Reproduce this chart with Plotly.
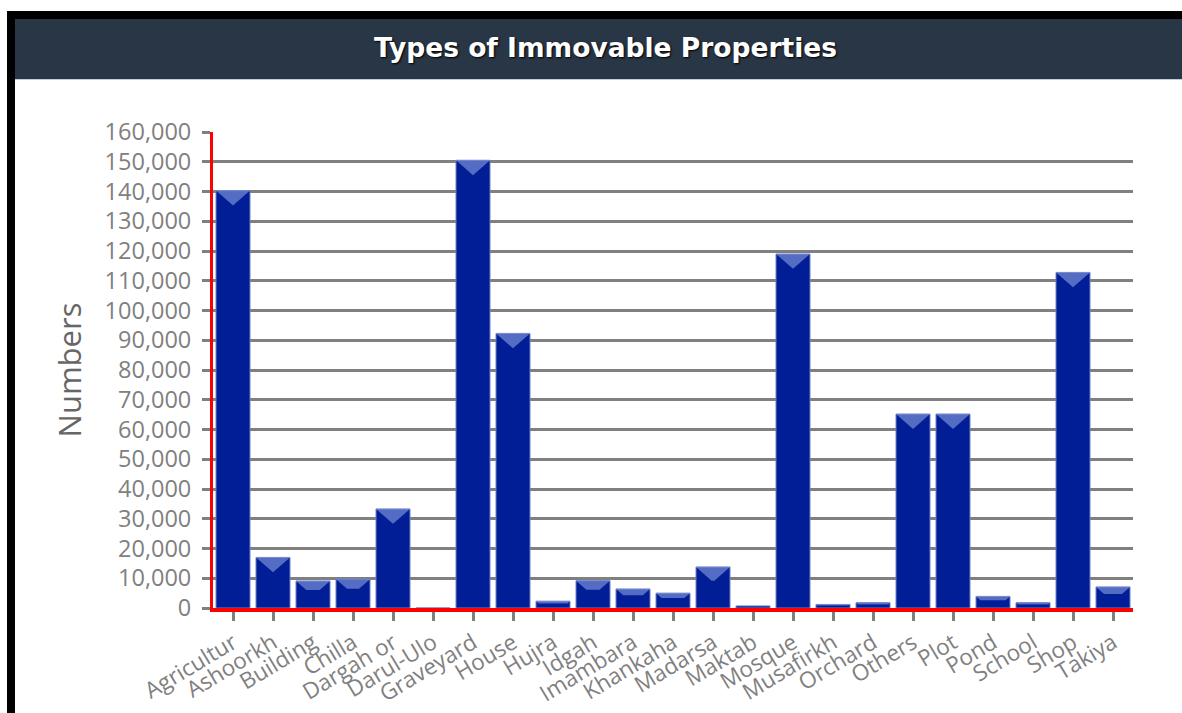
import plotly.graph_objects as go

categories = ["Agricultur", "Ashoorkh", "Building", "Chilla", "Dargah or", "Darul-Ulo",
              "Graveyard", "House", "Hujra", "Idgah", "Imambara", "Khankaha", "Madarsa",
              "Maktab", "Mosque", "Musafirkh", "Orchard", "Others", "Plot", "Pond",
              "School", "Shop", "Takiya"]
values = [140300, 17000, 9100, 9700, 33300, 0,
          150500, 92300, 2300, 9200, 6400, 5000, 13800,
          700, 119000, 1200, 1800, 65200, 65200, 3900,
          1800, 112800, 7100]

W, H = 1182, 713
L, R, T, B = 213, 49, 132, 105
pw, ph = W - L - R, H - T - B

def px_x(p):
    return (p - L) / pw

def px_y(p):
    return (H - B - p) / ph

fig = go.Figure()
fig.add_trace(go.Bar(
    x=list(range(len(categories))), y=values,
    marker=dict(color="#021e96", line=dict(color="#6f80c8", width=1)),
    width=0.85, hoverinfo="skip", showlegend=False,
))

# glossy chevron highlights on the bar tops, derived from the values
D = 5000.0
hw = 0.425
for i, v in enumerate(values):
    if v <= 0:
        continue
    c = min(D, v / 3.0)
    f = 1 - c / D
    xs = [i - hw, i + hw, i + hw * f, i - hw * f, i - hw]
    ys = [v, v, v - c, v - c, v]
    fig.add_trace(go.Scatter(x=xs, y=ys, fill="toself", mode="lines",
                             line=dict(width=0), fillcolor="rgba(140,160,225,0.6)",
                             hoverinfo="skip", showlegend=False))

shapes = [
    # black frame
    dict(type="rect", xref="paper", yref="paper", x0=px_x(7), x1=px_x(15), y0=px_y(713), y1=px_y(11),
         fillcolor="#000000", line=dict(width=0), layer="above"),
    dict(type="rect", xref="paper", yref="paper", x0=px_x(7), x1=px_x(1182), y0=px_y(19), y1=px_y(11),
         fillcolor="#000000", line=dict(width=0), layer="above"),
    # title bar
    dict(type="rect", xref="paper", yref="paper", x0=px_x(15), x1=px_x(1182), y0=px_y(79), y1=px_y(19),
         fillcolor="#283646", line=dict(width=0), layer="above"),
    dict(type="line", xref="paper", yref="paper", x0=px_x(15), x1=px_x(1182), y0=px_y(79.5), y1=px_y(79.5),
         line=dict(color="#c8ccd4", width=1), layer="above"),
]

fig.update_layout(
    width=W, height=H,
    margin=dict(l=L, r=R, t=T, b=B, autoexpand=False),
    paper_bgcolor="#ffffff", plot_bgcolor="#ffffff",
    shapes=shapes,
    bargap=0.15,
    annotations=[dict(text="<b>Types of Immovable Properties</b>", xref="paper", yref="paper",
                      x=px_x(605), y=px_y(48), showarrow=False, xanchor="center", yanchor="middle",
                      font=dict(family="DejaVu Sans", size=26.5, color="#ffffff",
                                shadow="1px 1px 2px #000000"))],
    font=dict(family="Open Sans", color="#808080"),
)
fig.update_xaxes(
    range=[-0.5, len(categories) - 0.5], automargin=False,
    tickmode="array", tickvals=list(range(len(categories))), ticktext=categories,
    tickangle=-31, tickfont=dict(size=22.5, color="#808080", family="Open Sans"),
    showline=True, linecolor="#ff0000", linewidth=4,
    ticks="outside", ticklen=9, tickwidth=3, tickcolor="#808080",
    showgrid=False, zeroline=False, fixedrange=True,
)
fig.update_yaxes(
    range=[0, 160000], dtick=10000, tickformat=",", automargin=False,
    tickfont=dict(size=23.5, color="#808080", family="Open Sans"),
    ticklabelstandoff=6,
    showline=True, linecolor="#ff0000", linewidth=3,
    ticks="outside", ticklen=8, tickwidth=3, tickcolor="#808080",
    showgrid=True, gridcolor="#808080", gridwidth=3,
    zeroline=False,
    title=dict(text="Numbers", font=dict(size=31, color="#666666", family="Open Sans"), standoff=14),
)

fig.write_html("out.html")
